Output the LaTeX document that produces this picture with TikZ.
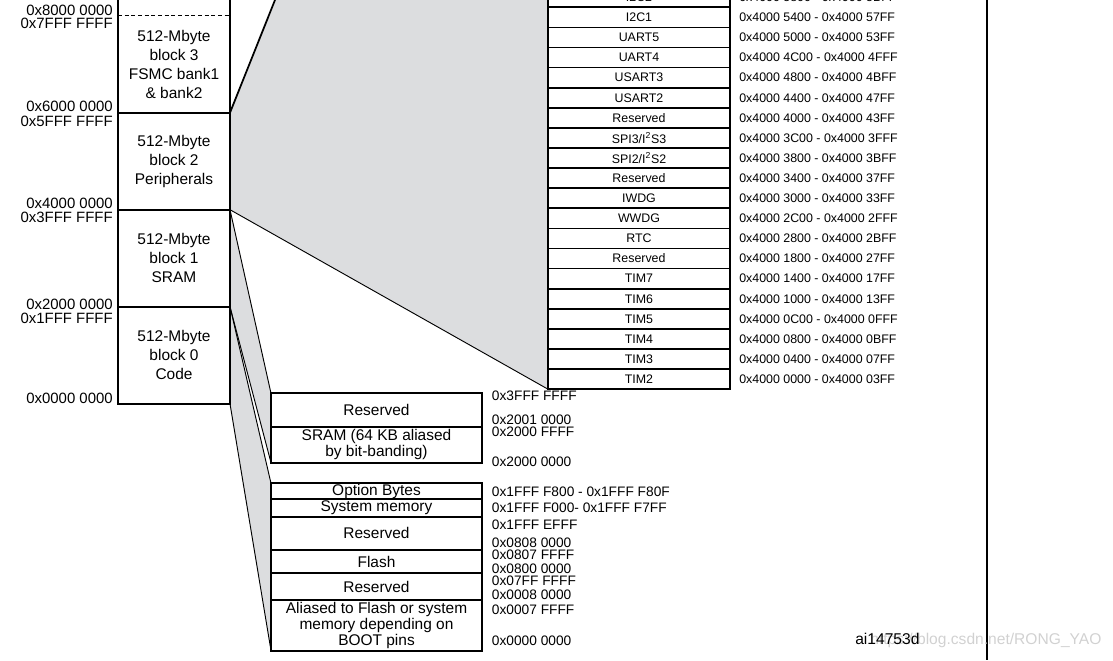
\documentclass[tikz,border=0pt]{standalone}
\usepackage{fontspec}
\setmainfont{Liberation Sans}
\usetikzlibrary{positioning,backgrounds}
\definecolor{wedgegray}{RGB}{220,221,223}
\tikzset{
    boxline/.style={line width=1.3pt},
    thinline/.style={line width=0.7pt},
    block/.style={draw, boxline, minimum width=84pt, minimum height=72.75pt, inner sep=0pt, outer sep=0pt, align=center, font=\fontsize{11.6}{14.25}\selectfont},
    leftaddr/.style={anchor=east, inner sep=0pt, font=\fontsize{11.2}{13}\selectfont},
    cell/.style={draw, boxline, minimum width=136.5pt, minimum height=15.075pt, inner sep=0pt, outer sep=0pt, font=\fontsize{9.3}{11}\selectfont},
    celladdr/.style={inner sep=0pt, font=\fontsize{9.3}{11}\selectfont},
    membox/.style={draw, boxline, minimum width=158.25pt, inner sep=0pt, outer sep=0pt, align=center, font=\fontsize{11.6}{12}\selectfont},
    memaddr/.style={anchor=west, inner sep=0pt, font=\fontsize{10.3}{11}\selectfont},
}

\begin{document}
\begin{tikzpicture}[x=0.75pt, y=-0.75pt]
    \useasboundingbox (0,0) rectangle (1113,660);
    \clip (0,0) rectangle (1113,660);

    % Left column: 512-Mbyte blocks
    \node[block, draw=none] (b3) at (174,64.2) {512-Mbyte\\block 3\\FSMC bank1\\\& bank2};
    \node[block, below=0pt of b3] (b2) {512-Mbyte\\block 2\\Peripherals};
    \node[block, below=0pt of b2] (b1) {512-Mbyte\\block 1\\SRAM};
    \node[block, below=0pt of b1] (b0) {512-Mbyte\\block 0\\Code};
    \draw[boxline] (118,0) -- (b3.south west);
    \draw[boxline] (230,0) -- (b3.south east);
    \draw[line width=1pt, dash pattern=on 3pt off 2pt] (b3.north west) -- (b3.north east);

    % Block boundaries
    \node[leftaddr] (l80) at (113,10) {0x8000 0000};
    \node[leftaddr] (l7f) at (113,23.5) {0x7FFF FFFF};
    \node[leftaddr] (l60) at (113,106.5) {0x6000 0000};
    \node[leftaddr] (l5f) at (113,121.5) {0x5FFF FFFF};
    \node[leftaddr] (l40) at (113,203) {0x4000 0000};
    \node[leftaddr] (l3f) at (113,217.5) {0x3FFF FFFF};
    \node[leftaddr] (l20) at (113,304.5) {0x2000 0000};
    \node[leftaddr] (l1f) at (113,318.5) {0x1FFF FFFF};
    \node[leftaddr] (l00) at (113,398) {0x0000 0000};

    % Peripheral table
    \foreach \name/\addr [count=\i from 0] in {
        {I2C2}/{0x4000 5800 - 0x4000 5BFF},
        {I2C1}/{0x4000 5400 - 0x4000 57FF},
        {UART5}/{0x4000 5000 - 0x4000 53FF},
        {UART4}/{0x4000 4C00 - 0x4000 4FFF},
        {USART3}/{0x4000 4800 - 0x4000 4BFF},
        {USART2}/{0x4000 4400 - 0x4000 47FF},
        {Reserved}/{0x4000 4000 - 0x4000 43FF},
        {SPI3/I\textsuperscript{2}S3}/{0x4000 3C00 - 0x4000 3FFF},
        {SPI2/I\textsuperscript{2}S2}/{0x4000 3800 - 0x4000 3BFF},
        {Reserved}/{0x4000 3400 - 0x4000 37FF},
        {IWDG}/{0x4000 3000 - 0x4000 33FF},
        {WWDG}/{0x4000 2C00 - 0x4000 2FFF},
        {RTC}/{0x4000 2800 - 0x4000 2BFF},
        {Reserved}/{0x4000 1800 - 0x4000 27FF},
        {TIM7}/{0x4000 1400 - 0x4000 17FF},
        {TIM6}/{0x4000 1000 - 0x4000 13FF},
        {TIM5}/{0x4000 0C00 - 0x4000 0FFF},
        {TIM4}/{0x4000 0800 - 0x4000 0BFF},
        {TIM3}/{0x4000 0400 - 0x4000 07FF},
        {TIM2}/{0x4000 0000 - 0x4000 03FF}} {
        \node[cell] (c\i) at (639,{-2.75+20.1*\i}) {\name};
        \node[celladdr, right=6.75pt of c\i] (a\i) {\addr};
    }

    % SRAM detail
    \node[membox, minimum height=25pt] (s1) at (376.5,410) {Reserved};
    \node[membox, minimum height=27pt, below=0pt of s1] (s2) {SRAM (64 KB aliased\\by bit-banding)};

    % Code detail
    \node[membox, minimum height=12pt] (k1) at (376.5,491.3) {Option Bytes};
    \node[membox, minimum height=13pt, below=0pt of k1] (k2) {System memory};
    \node[membox, minimum height=25pt, below=0pt of k2] (k3) {Reserved};
    \node[membox, minimum height=17.5pt, below=0pt of k3] (k4) {Flash};
    \node[membox, minimum height=20pt, below=0pt of k4] (k5) {Reserved};
    \node[membox, minimum height=38pt, below=0pt of k5] (k6) {Aliased to Flash or system\\memory depending on\\BOOT pins};

    \node[memaddr] (m1) at (491.7,395.5) {0x3FFF FFFF};
    \node[memaddr] (m2) at (491.7,420) {0x2001 0000};
    \node[memaddr] (m3) at (491.7,431.7) {0x2000 FFFF};
    \node[memaddr] (m4) at (491.7,461.7) {0x2000 0000};
    \node[memaddr] (m5) at (491.7,491.7) {0x1FFF F800 - 0x1FFF F80F};
    \node[memaddr] (m6) at (491.7,507.7) {0x1FFF F000- 0x1FFF F7FF};
    \node[memaddr] (m7) at (491.7,525) {0x1FFF EFFF};
    \node[memaddr] (m8) at (491.7,542.3) {0x0808 0000};
    \node[memaddr] (m9) at (491.7,554.3) {0x0807 FFFF};
    \node[memaddr] (m10) at (491.7,569) {0x0800 0000};
    \node[memaddr] (m11) at (491.7,581) {0x07FF FFFF};
    \node[memaddr] (m12) at (491.7,595) {0x0008 0000};
    \node[memaddr] (m13) at (491.7,609.3) {0x0007 FFFF};
    \node[memaddr] (m14) at (491.7,641) {0x0000 0000};

    % Zoom wedges
    \coordinate (ptop) at (548,-683.7);
    \begin{scope}[on background layer]
        \clip (0,0) rectangle (1113,660);
        \fill[wedgegray] (b2.north east) -- (ptop) -- (c19.south west) -- (b2.south east) -- cycle;
        \fill[wedgegray] (b1.north east) -- (s1.north west) -- (s2.south west) -- (b1.south east) -- cycle;
        \fill[wedgegray] (b0.north east) -- (k1.north west) -- (k6.south west) -- (b0.south east) -- cycle;
    \end{scope}
    \draw[boxline] (b2.north east) -- (ptop);
    \draw[thinline] (b2.south east) -- (c19.south west);
    \draw[thinline] (b1.north east) -- (s1.north west);
    \draw[thinline] (b1.south east) -- (s2.south west);
    \draw[thinline] (b0.north east) -- (k1.north west);
    \draw[thinline] (b0.south east) -- (k6.south west);

    % Right frame and figure tag
    \draw[boxline] (987,0) -- (987,660);
    \node[anchor=west, inner sep=0pt, text=black!18, font=\fontsize{11.7}{13}\selectfont] (wm) at (870,640) {https://blog.csdn.net/RONG\_YAO};
    \node[anchor=west, inner sep=0pt, font=\fontsize{11.7}{13}\selectfont] (tag) at (855,639) {ai14753d};
\end{tikzpicture}
\end{document}
